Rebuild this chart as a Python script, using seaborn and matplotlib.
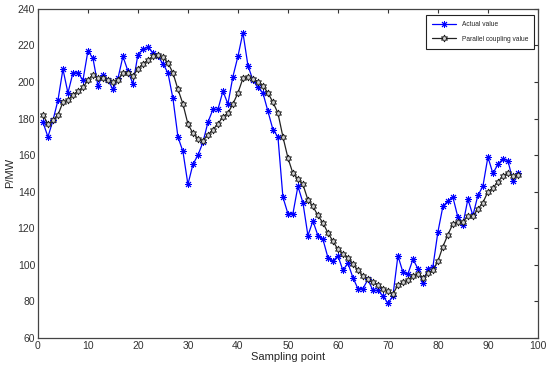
import matplotlib
matplotlib.use('Agg')
import matplotlib.pyplot as plt
import numpy as np
import seaborn as sns
import pandas as pd

# sampling points 1..96
points = list(range(1, 97))

actual = [178, 170, 179, 190, 207, 194, 205, 205, 201, 217,
          213, 198, 204, 201, 196, 202, 214, 206, 199, 215,
          218, 219, 216, 214, 210, 205, 191, 170, 162, 144,
          155, 160, 167, 178, 185, 185, 195, 188, 203, 214,
          227, 209, 201, 197, 194, 184, 174, 170, 137, 128,
          128, 143, 134, 116, 124, 116, 114, 104, 102, 105,
          97, 101, 93, 87, 87, 92, 86, 86, 83, 79,
          83, 105, 96, 95, 103, 98, 90, 98, 99, 118,
          132, 135, 137, 126, 122, 136, 127, 138, 143, 159,
          150, 155, 158, 157, 146, 150]

coupling = [182, 177, 179, 182, 189, 190, 193, 195, 197, 201,
            204, 202, 202, 201, 200, 201, 205, 205, 203.5, 207,
            210, 212, 214, 215, 213.5, 210.5, 205, 196, 188, 177,
            172, 169, 168, 171, 174, 177, 181, 183, 188, 194,
            202, 203, 201.5, 200, 198, 194, 189, 183, 170, 158.5,
            150, 147, 144, 135.5, 132, 127, 123, 117.5, 113, 108.5,
            106, 104, 100.5, 97, 94, 92, 90.5, 89, 87, 85.5,
            84, 89, 90.5, 91.5, 94, 95, 93, 95.5, 97, 102,
            110, 116.5, 122.5, 123.5, 123.5, 126.7, 126.7, 130.5, 134, 140,
            142, 145.5, 148.5, 150.5, 148.5, 149]

df = pd.DataFrame({'point': points, 'actual': actual, 'coupling': coupling})

sns.set_style("white")
plt.rcParams['font.family'] = ['Liberation Sans', 'DejaVu Sans']

fig = plt.figure(figsize=(5.5, 3.69), dpi=100)
ax = fig.add_axes([0.069, 0.084, 0.909, 0.892])

sns.lineplot(data=df, x='point', y='actual', ax=ax, color='#0000ff', linewidth=0.9,
             marker=(8, 2, 0), markersize=5, markeredgecolor='#0000ff', markeredgewidth=0.7,
             label='Actual value')
sns.lineplot(data=df, x='point', y='coupling', ax=ax, color='#222222', linewidth=0.9,
             marker=(6, 1, 0), markersize=5, markerfacecolor='#d0d0d0', markeredgecolor='#111111',
             markeredgewidth=0.6, label='Parallel coupling value')

ax.set_xlim(0, 100)
ax.set_ylim(60, 240)
ax.set_xticks(range(0, 101, 10))
ax.set_yticks(range(60, 241, 20))
ax.tick_params(direction='in', length=3, width=0.8, labelsize=7.5, top=True, right=True,
               colors='#333333', pad=2)
for s in ax.spines.values():
    s.set_color('#444444')
    s.set_linewidth(0.9)

ax.set_xlabel('Sampling point', fontsize=8, labelpad=1)
ax.set_ylabel('P/MW', fontsize=8, labelpad=2)

leg = ax.legend(loc='upper right', bbox_to_anchor=(0.999, 0.99), fontsize=4.8, frameon=True,
                fancybox=False, edgecolor='#222222', framealpha=1, handlelength=3.6,
                borderpad=0.9, labelspacing=1.1)
leg.get_frame().set_linewidth(0.8)

fig.savefig('out.png', dpi=100)
